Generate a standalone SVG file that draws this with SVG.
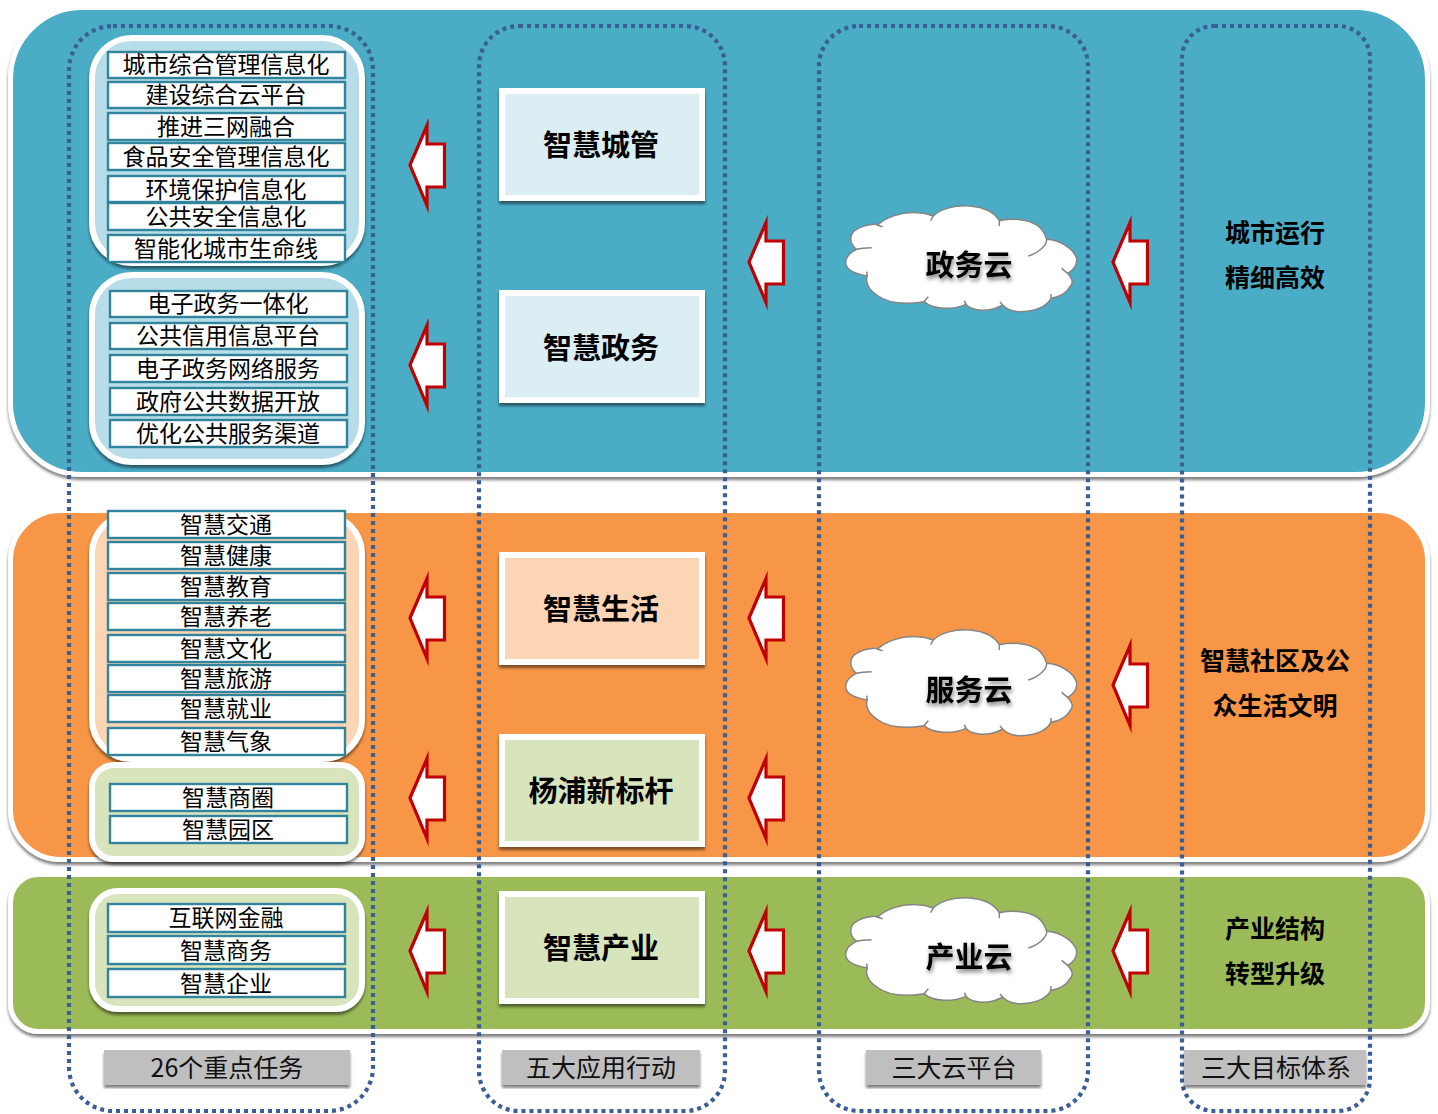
<svg xmlns="http://www.w3.org/2000/svg" xmlns:xlink="http://www.w3.org/1999/xlink" width="1438" height="1114" viewBox="0 0 1438 1114">
<style>
text{font-family:"Noto Sans CJK SC","Liberation Sans",sans-serif;text-anchor:middle;fill:#000}
.band{stroke:#fff;stroke-width:5;filter:url(#sh)}
.grp{stroke:#fff;stroke-width:6;filter:url(#sh)}
.box{fill:#fff;stroke:#31849b;stroke-width:2.4}
.t{font-size:23px}
.ctr{stroke:#fff;stroke-width:6;filter:url(#sh)}
.ct{font-size:29px;font-weight:700}
.cl{font-size:29px;font-weight:700;filter:url(#ts)}
.gt{font-size:25px;font-weight:700}
.lab{fill:#bfbfbf;filter:url(#sh)}
.lt{font-size:25px;fill:#111}
.dash{fill:none;stroke:#3a5f96;stroke-width:4.2;stroke-dasharray:4 4}
.arr{fill:#fff;stroke:#c00000;stroke-width:3.2;stroke-miterlimit:12}
.cloud{fill:#fff;stroke:#848484;stroke-width:4.5;stroke-linejoin:round}
.arc{fill:none;stroke:#848484;stroke-width:4.5}
</style>
<defs>
<filter id="sh" x="-5%" y="-5%" width="110%" height="115%"><feDropShadow dx="0" dy="3" stdDeviation="1.8" flood-color="#000" flood-opacity=".5"/></filter>
<filter id="ts" x="-10%" y="-10%" width="125%" height="135%"><feDropShadow dx="1" dy="3" stdDeviation="2" flood-color="#000" flood-opacity=".5"/></filter>
<path id="arrow" class="arr" d="M0,0 L17,-39.500 L17,-21 L34.500,-21 L34.500,22 L17,22 L17,40.500 Z"/>
<g id="cloudshape" transform="translate(720,190) scale(.3333)">
<path class="cloud" d="M442,258 C395,250 372,235 378,210 C382,195 395,185 410,178 C385,160 388,130 410,118 C430,105 455,103 475,103 C495,85 540,65 590,68 C610,68 625,72 640,78 C660,58 700,45 750,48 C795,52 825,70 838,92 C870,85 920,85 950,105 C965,115 975,130 980,148 C1020,150 1060,175 1070,205 C1072,225 1062,240 1043,250 C1060,270 1060,280 1050,290 C1040,310 1015,322 993,325 C980,350 945,365 900,365 C880,365 860,358 848,345 C815,365 770,365 745,350 L738,343 C700,360 640,360 612,335 C570,342 510,345 470,315 C445,298 435,275 442,258 Z"/>
<path class="arc" d="M410,178 C425,173 440,173 455,173 M470,105 L488,110 M640,78 L632,92 M838,92 L838,108 M980,148 C982,165 955,190 925,198 M1043,250 L1025,235 M993,325 L993,312 M848,345 L840,336 M738,343 L733,332 M612,335 L625,320 M442,258 L440,245"/>
</g>
</defs>

<g id="bands">
<rect id="band-blue" class="band" x="10.500" y="7.500" width="1417" height="467" rx="72" fill="#4bacc6"/>
<rect id="band-orange" class="band" x="10.500" y="510.500" width="1417" height="349" rx="50" fill="#f79646"/>
<rect id="band-green" class="band" x="10.500" y="874.500" width="1417" height="157" rx="28" fill="#9bbb59"/>
</g>

<g id="task-group-1">
<rect class="grp" x="92" y="38" width="270" height="225" rx="40" fill="#b7dde8"/>
<rect class="box" x="108" y="52" width="237" height="26"/><text class="t" x="226" y="73">城市综合管理信息化</text>
<rect class="box" x="108" y="82" width="237" height="26"/><text class="t" x="226" y="103">建设综合云平台</text>
<rect class="box" x="108" y="113" width="237" height="27"/><text class="t" x="226" y="135">推进三网融合</text>
<rect class="box" x="108" y="143" width="237" height="27"/><text class="t" x="226" y="165">食品安全管理信息化</text>
<rect class="box" x="108" y="176" width="237" height="26"/><text class="t" x="226" y="198">环境保护信息化</text>
<rect class="box" x="108" y="203" width="237" height="27"/><text class="t" x="226" y="225">公共安全信息化</text>
<rect class="box" x="108" y="235" width="237" height="27"/><text class="t" x="226" y="257">智能化城市生命线</text>
</g>
<g id="task-group-2">
<rect class="grp" x="92" y="275" width="270" height="187" rx="40" fill="#b7dde8"/>
<rect class="box" x="110" y="291" width="237" height="26"/><text class="t" x="228" y="312">电子政务一体化</text>
<rect class="box" x="110" y="323" width="237" height="26"/><text class="t" x="228" y="344">公共信用信息平台</text>
<rect class="box" x="110" y="355" width="237" height="27"/><text class="t" x="228" y="377">电子政务网络服务</text>
<rect class="box" x="110" y="388" width="237" height="27"/><text class="t" x="228" y="410">政府公共数据开放</text>
<rect class="box" x="110" y="420" width="237" height="27"/><text class="t" x="228" y="442">优化公共服务渠道</text>
</g>
<g id="task-group-3">
<rect class="grp" x="92" y="514" width="270" height="245" rx="40" fill="#fcd5b5"/>
<rect class="box" x="108" y="511" width="237" height="27"/><text class="t" x="226" y="533">智慧交通</text>
<rect class="box" x="108" y="542" width="237" height="27"/><text class="t" x="226" y="564">智慧健康</text>
<rect class="box" x="108" y="573" width="237" height="27"/><text class="t" x="226" y="595">智慧教育</text>
<rect class="box" x="108" y="603" width="237" height="27"/><text class="t" x="226" y="625">智慧养老</text>
<rect class="box" x="108" y="635" width="237" height="27"/><text class="t" x="226" y="657">智慧文化</text>
<rect class="box" x="108" y="665" width="237" height="27"/><text class="t" x="226" y="687">智慧旅游</text>
<rect class="box" x="108" y="695" width="237" height="27"/><text class="t" x="226" y="717">智慧就业</text>
<rect class="box" x="108" y="728" width="237" height="27"/><text class="t" x="226" y="750">智慧气象</text>
</g>
<g id="task-group-4">
<rect class="grp" x="92" y="765" width="270" height="94" rx="22" fill="#d7e4bc"/>
<rect class="box" x="110" y="784" width="237" height="27"/><text class="t" x="228" y="806">智慧商圈</text>
<rect class="box" x="110" y="816" width="237" height="27"/><text class="t" x="228" y="838">智慧园区</text>
</g>
<g id="task-group-5">
<rect class="grp" x="92" y="891" width="270" height="118" rx="26" fill="#d7e4bc"/>
<rect class="box" x="108" y="904" width="237" height="28"/><text class="t" x="226" y="926">互联网金融</text>
<rect class="box" x="108" y="936" width="237" height="28"/><text class="t" x="226" y="959">智慧商务</text>
<rect class="box" x="108" y="969" width="237" height="28"/><text class="t" x="226" y="992">智慧企业</text>
</g>

<g id="action-1"><rect class="ctr" x="502" y="91" width="200" height="107" fill="#dbeef4"/><text class="ct" x="601" y="156">智慧城管</text></g>
<g id="action-2"><rect class="ctr" x="502" y="293" width="200" height="107" fill="#dbeef4"/><text class="ct" x="601" y="359">智慧政务</text></g>
<g id="action-3"><rect class="ctr" x="502" y="555" width="200" height="107" fill="#fcd5b5"/><text class="ct" x="601" y="620">智慧生活</text></g>
<g id="action-4"><rect class="ctr" x="502" y="737" width="200" height="107" fill="#d7e4bc"/><text class="ct" x="601" y="802">杨浦新标杆</text></g>
<g id="action-5"><rect class="ctr" x="502" y="894" width="200" height="107" fill="#d7e4bc"/><text class="ct" x="601" y="959">智慧产业</text></g>

<g id="cloud-1"><use href="#cloudshape"/><text class="cl" x="969" y="276">政务云</text></g>
<g id="cloud-2"><use href="#cloudshape" y="424"/><text class="cl" x="969" y="701">服务云</text></g>
<g id="cloud-3"><use href="#cloudshape" y="692"/><text class="cl" x="969" y="968">产业云</text></g>

<g id="goal-1"><text class="gt" x="1275" y="242">城市运行</text><text class="gt" x="1275" y="287">精细高效</text></g>
<g id="goal-2"><text class="gt" x="1275" y="670">智慧社区及公</text><text class="gt" x="1275" y="715">众生活文明</text></g>
<g id="goal-3"><text class="gt" x="1275" y="938">产业结构</text><text class="gt" x="1275" y="983">转型升级</text></g>

<g id="connectors">
<use href="#arrow" x="410" y="165"/>
<use href="#arrow" x="410" y="365"/>
<use href="#arrow" x="410" y="618"/>
<use href="#arrow" x="410" y="798"/>
<use href="#arrow" x="410" y="951"/>
<use href="#arrow" x="749" y="262"/>
<use href="#arrow" x="749" y="618"/>
<use href="#arrow" x="749" y="798"/>
<use href="#arrow" x="749" y="951"/>
<use href="#arrow" x="1113" y="262"/>
<use href="#arrow" x="1113" y="685"/>
<use href="#arrow" x="1113" y="951"/>
</g>

<g id="columns">
<rect class="dash" x="69" y="26" width="304" height="1085" rx="44"/>
<rect class="dash" x="479" y="26" width="246" height="1085" rx="40"/>
<rect class="dash" x="819" y="26" width="269" height="1085" rx="40"/>
<rect class="dash" x="1182" y="26" width="188" height="1085" rx="32"/>
</g>

<g id="label-1"><rect class="lab" x="104" y="1050" width="246" height="35"/><text class="lt" x="227" y="1077">26个重点任务</text></g>
<g id="label-2"><rect class="lab" x="502" y="1050" width="198" height="35"/><text class="lt" x="601" y="1077">五大应用行动</text></g>
<g id="label-3"><rect class="lab" x="866" y="1050" width="175" height="35"/><text class="lt" x="954" y="1077">三大云平台</text></g>
<g id="label-4"><rect class="lab" x="1184" y="1050" width="182" height="35"/><text class="lt" x="1276" y="1077">三大目标体系</text></g>
</svg>
